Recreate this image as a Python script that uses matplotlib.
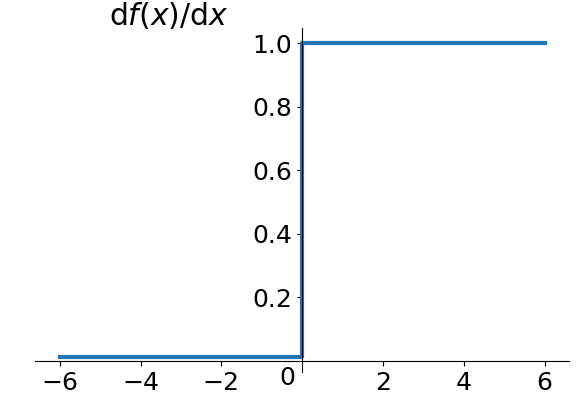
import matplotlib
matplotlib.use("Agg")
import matplotlib.pyplot as plt
import matplotlib.transforms as mtransforms

# data: derivative of ReLU (step)
x_vals = [-6, 0, 0, 6]
y_vals = [0.014, 0.014, 1.0, 1.0]
xticks = [-6, -4, -2, 2, 4, 6]
yticks = [0.2, 0.4, 0.6, 0.8, 1.0]
title = r'$\mathrm{d}f(x)/\mathrm{d}x$'

fig = plt.figure(figsize=(5.87, 3.99), dpi=100)
ax = fig.add_axes([35.4/587, 1-372.2/399, (569-35.4)/587, (372.2-27.6)/399])
ax.plot(x_vals, y_vals, color='#1f77b4', lw=3)

ax.spines['top'].set_visible(False)
ax.spines['right'].set_visible(False)
ax.spines['left'].set_position('zero')
ax.spines['bottom'].set_position('zero')
ax.set_xticks(xticks)
ax.set_yticks(yticks)
ax.set_yticklabels([f'{v:.1f}' for v in yticks])
ax.set_xticklabels([str(v).replace('-', '\u2212') for v in xticks])
ax.tick_params(labelsize=18)

off = mtransforms.offset_copy(ax.transData, fig=fig, x=-15, y=-17, units='dots')
ax.text(0, 0, '0', transform=off, fontsize=18, ha='center', va='center')

fig.text(168.5/587, 1.0, title, fontsize=21.5, ha='center', va='top')

fig.savefig('out.png', dpi=100)
